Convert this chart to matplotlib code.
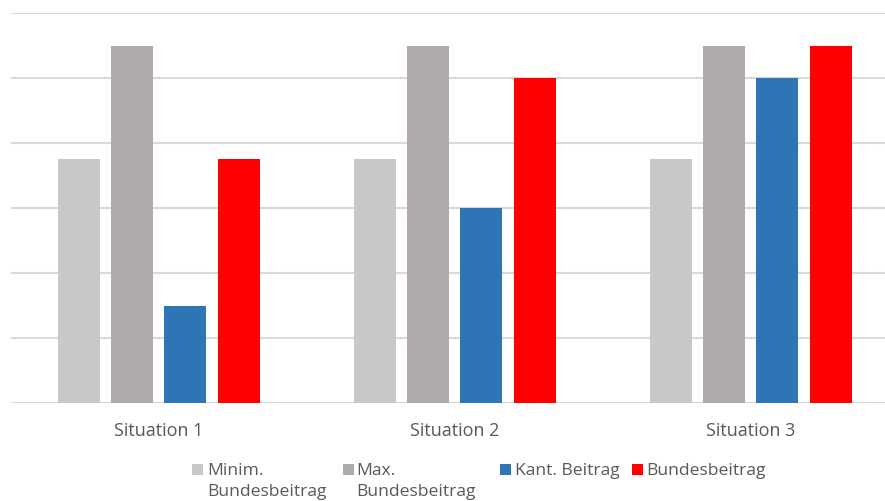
import matplotlib
matplotlib.use("Agg")
import matplotlib.pyplot as plt
from matplotlib.patches import Rectangle
import numpy as np

categories = ["Situation 1", "Situation 2", "Situation 3"]
series_labels = ["Minim.\nBundesbeitrag", "Max.\nBundesbeitrag", "Kant. Beitrag", "Bundesbeitrag"]
minim = [3.75, 3.75, 3.75]
maxim = [5.5, 5.5, 5.5]
kant = [1.5, 3.0, 5.0]
bundes = [3.75, 5.0, 5.5]
colors = ["#C8C8C8", "#AFABAB", "#2E75B6", "#FF0000"]

W, H = 885, 502
fig = plt.figure(figsize=(W / 100, H / 100), dpi=100)
plt.rcParams['font.family'] = ['Open Sans', 'DejaVu Sans']

ax_left, ax_right, ax_top, ax_bottom = 11, 899, 14, 404
ax = fig.add_axes([ax_left / W, (H - ax_bottom) / H, (ax_right - ax_left) / W, (ax_bottom - ax_top) / H])

x = np.arange(len(categories))
offsets = [-0.271, -0.091, 0.089, 0.271]
width = 0.142
for vals, off, c in zip([minim, maxim, kant, bundes], offsets, colors):
    ax.bar(x + off, vals, width=width, color=c, zorder=3)

ax.set_xlim(-0.5, 2.5)
ax.set_ylim(0, 6)
ax.set_yticks(np.arange(0, 7, 1))
ax.yaxis.grid(True, color="#D9D9D9", linewidth=1.5, zorder=0)
ax.set_yticklabels([])
ax.tick_params(axis='y', length=0)
ax.tick_params(axis='x', length=0, pad=13, labelsize=13, labelcolor="#595959")
ax.set_xticks(x)
ax.set_xticklabels(categories)
for s in ["top", "right", "left", "bottom"]:
    ax.spines[s].set_visible(False)

# legend (manual)
marker_x = [192, 343, 500, 632]
text_x = [207, 356, 515, 646]
y_line1 = 470.5
msize = 11
for lab, c, mx, tx in zip(series_labels, colors, marker_x, text_x):
    fig.patches.append(Rectangle((mx / W, (H - y_line1 - msize / 2) / H), msize / W, msize / H,
                                 transform=fig.transFigure, facecolor=c, edgecolor='none'))
    fig.text(tx / W, (H - y_line1) / H + 0.0145, lab, ha='left', va='top', fontsize=12.6,
             color="#595959", linespacing=1.36)

fig.savefig("out.png", dpi=100)
